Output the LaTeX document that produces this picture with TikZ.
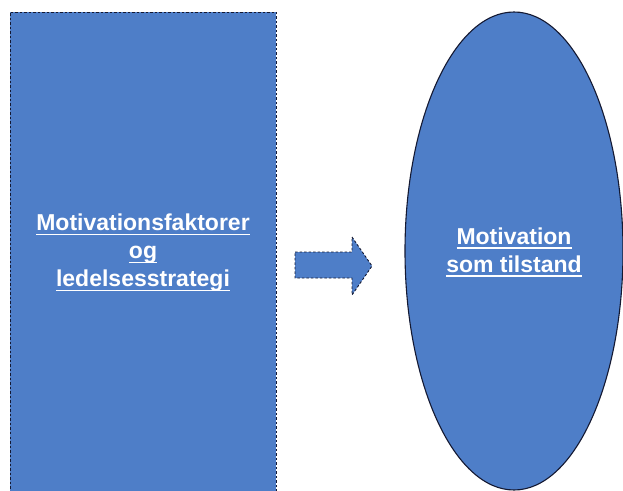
\documentclass[tikz,border=0pt]{standalone}
\usepackage{fontspec}
\setmainfont{Liberation Sans}
\definecolor{boxblue}{RGB}{78,126,200}
\definecolor{edgeline}{RGB}{20,25,50}
% underline at a fixed depth below the baseline
\newcommand{\ulword}[1]{\setbox0\hbox{#1}\rlap{\rule[-4.5bp]{\wd0}{1.6bp}}\box0}
\tikzset{
  shapefill/.style={fill=boxblue, draw=edgeline, line width=0.9bp, dash pattern=on 2.5bp off 2bp},
  label/.style={text=white, font=\bfseries\fontsize{23bp}{28bp}\selectfont, align=center, inner sep=0pt}
}
\begin{document}
\begin{tikzpicture}[x=1bp, y=-1bp]
  \useasboundingbox (0,0) rectangle (623,491);
  % left block
  \node[shapefill, rectangle, minimum width=266bp, minimum height=479bp, inner sep=0pt] (factors) at (143,251.5) {};
  \node[label] (factorstext) at (143,253) {\ulword{Motivationsfaktorer}\\\ulword{og}\\\ulword{ledelsesstrategi}};
  % right ellipse
  \draw[shapefill, draw=edgeline, solid, line width=1.1bp] (514,251) ellipse [x radius=109, y radius=239];
  \node (state) at (514,251) {};
  \node[label] (statetext) at (514,252) {\ulword{Motivation}\\\ulword{som tilstand}};
  % block arrow between the two
  \coordinate (tail) at (295,265);
  \coordinate (tip) at (372,266);
  \draw[shapefill] (tail) ++(0,-13) -- (352,252) -- (352,237) -- (tip) -- (352,295) -- (352,278) -- (295,278) -- cycle;
\end{tikzpicture}
\end{document}
